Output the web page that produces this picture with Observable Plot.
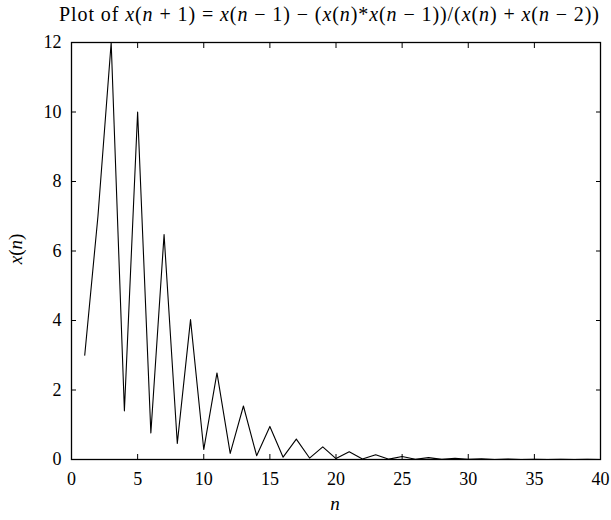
<!DOCTYPE html>
<html>
<head>
<meta charset="utf-8">
<script src="https://cdn.jsdelivr.net/npm/d3@7"></script>
<script src="https://cdn.jsdelivr.net/npm/@observablehq/plot@0.6"></script>
<style>
  html, body { margin: 0; padding: 0; background: #fff; }
  #chart svg text, #chart svg tspan { font-family: "Liberation Serif", "Times New Roman", serif; }
</style>
</head>
<body>
<div id="chart"></div>
<script>
const nValues = [1,2,3,4,5,6,7,8,9,10,11,12,13,14,15,16,17,18,19,20,21,22,23,24,25,26,27,28,29,30,31,32,33,34,35,36,37,38,39,40];
const xValues = [3, 7, 12, 1.4, 10, 0.7636, 6.4706, 0.4636, 4.0261, 0.2858, 2.4907, 0.1766, 1.5396, 0.1091, 0.9516, 0.0674, 0.5881, 0.0417, 0.3635, 0.0258, 0.2246, 0.0159, 0.1388, 0.0098, 0.0858, 0.0061, 0.0530, 0.0038, 0.0328, 0.0023, 0.0203, 0.0014, 0.0125, 0.0009, 0.0077, 0.0006, 0.0048, 0.0003, 0.0030, 0.0002];
const xTicks = [0,5,10,15,20,25,30,35,40];
const yTicks = [0,2,4,6,8,10,12];

const data = nValues.map((n, i) => ({n, x: xValues[i]}));

const font = "'Liberation Serif', 'Times New Roman', serif";
const blank = () => "";
const plot = Plot.plot({
  width: 611,
  height: 520,
  marginLeft: 71,
  marginRight: 11,
  marginTop: 42,
  marginBottom: 61,
  style: {fontFamily: font, fontSize: "18px", color: "#000", background: "#fff"},
  x: {domain: [0, 40]},
  y: {domain: [0, 12]},
  marks: [
    Plot.axisX(xTicks, {anchor: "bottom", tickSize: 0, tickPadding: 13, label: null, fontSize: 18}),
    Plot.axisY(yTicks, {anchor: "left", tickSize: 0, tickPadding: 10, label: null, fontSize: 18}),
    Plot.axisX(xTicks, {anchor: "bottom", tickSize: 5, dy: -5, tickFormat: blank, label: null, strokeWidth: 1}),
    Plot.axisX(xTicks, {anchor: "top", tickSize: 5, dy: 5, tickFormat: blank, label: null, strokeWidth: 1}),
    Plot.axisY(yTicks, {anchor: "left", tickSize: 5, dx: 5, tickFormat: blank, label: null, strokeWidth: 1}),
    Plot.axisY(yTicks, {anchor: "right", tickSize: 5, dx: -5, tickFormat: blank, label: null, strokeWidth: 1}),
    Plot.line(data, {x: "n", y: "x", stroke: "#000", strokeWidth: 1.1}),
    Plot.frame({stroke: "#000", strokeWidth: 1.3})
  ]
});
document.getElementById("chart").appendChild(plot);

const svg = d3.select(plot);

// Title with italic variables
const titleParts = [
  ["Plot of ", false], ["x", true], ["(", false], ["n", true], [" + 1) = ", false],
  ["x", true], ["(", false], ["n", true], [" − 1) − (", false],
  ["x", true], ["(", false], ["n", true], [")*", false],
  ["x", true], ["(", false], ["n", true], [" − 1))/(", false],
  ["x", true], ["(", false], ["n", true], [") + ", false],
  ["x", true], ["(", false], ["n", true], [" − 2))", false]
];
const title = svg.append("text")
  .attr("x", 329).attr("y", 21)
  .attr("text-anchor", "middle")
  .attr("font-size", 20)
  .attr("fill", "#000")
  .attr("textLength", 540).attr("lengthAdjust", "spacing");
titleParts.forEach(([t, it]) => {
  const s = title.append("tspan").text(t);
  if (it) s.attr("font-style", "italic");
});

svg.append("text")
  .attr("x", 335).attr("y", 510)
  .attr("text-anchor", "middle")
  .attr("font-size", 19)
  .attr("font-style", "italic")
  .attr("fill", "#000")
  .text("n");

const yl = svg.append("text")
  .attr("transform", "translate(22,249) rotate(-90)")
  .attr("text-anchor", "middle")
  .attr("font-size", 19)
  .attr("fill", "#000");
yl.append("tspan").attr("font-style", "italic").text("x");
yl.append("tspan").text("(");
yl.append("tspan").attr("font-style", "italic").text("n");
yl.append("tspan").text(")");
</script>
</body>
</html>
